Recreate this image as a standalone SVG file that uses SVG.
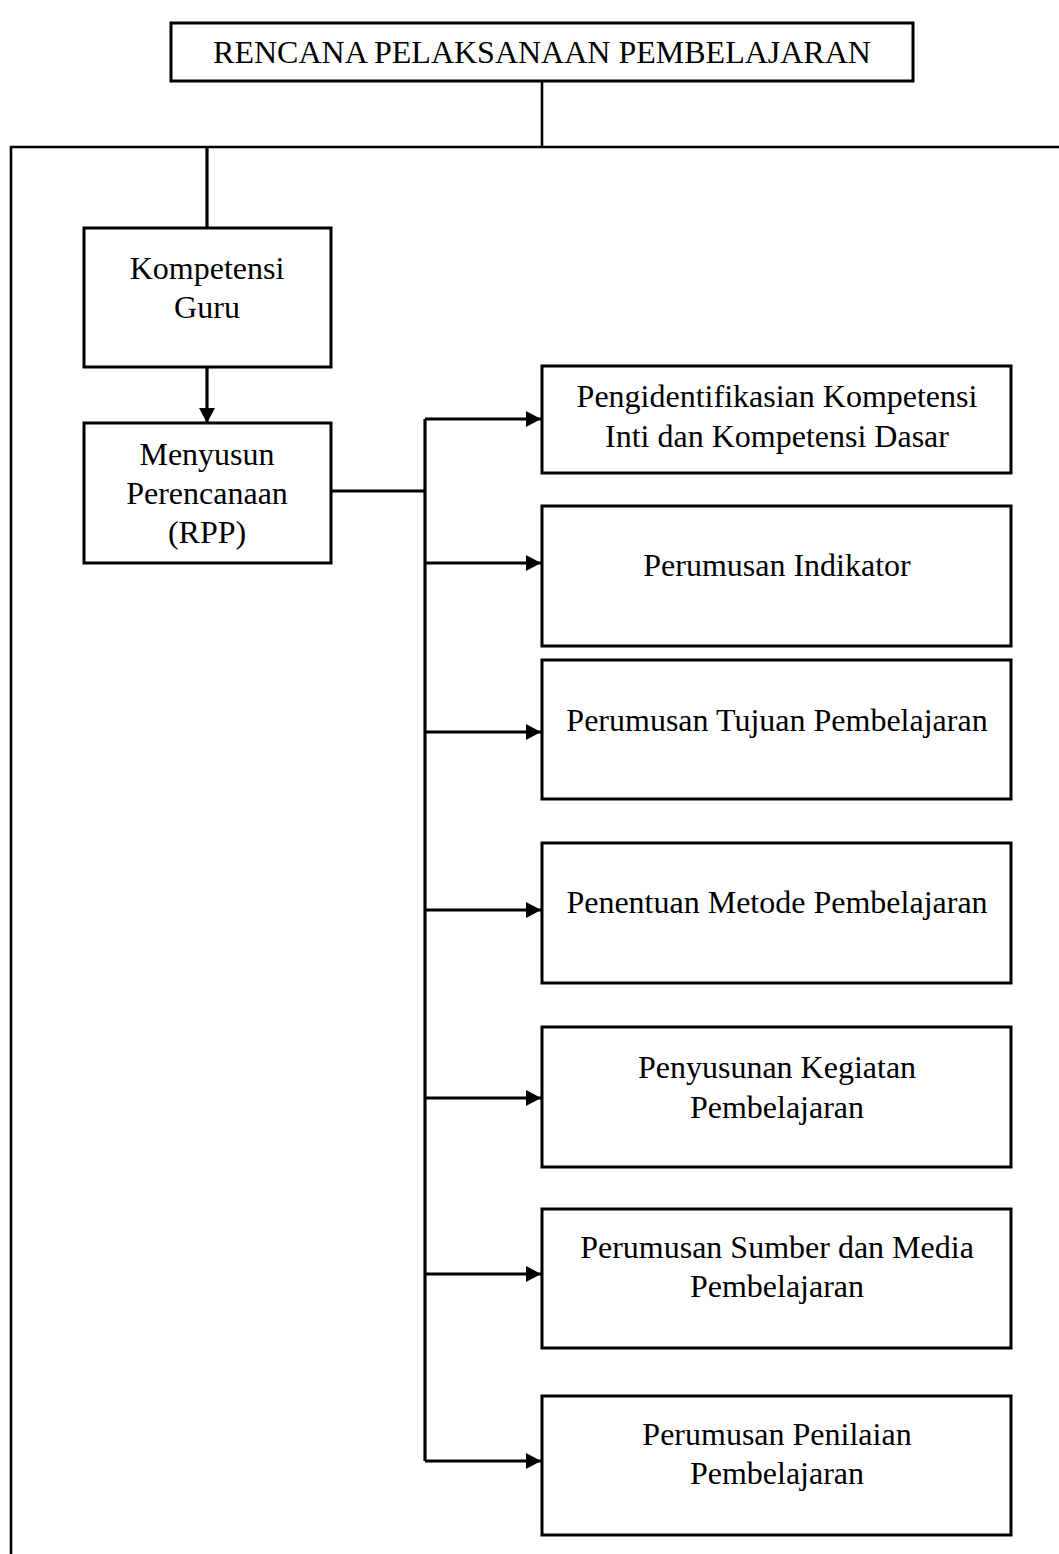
<svg xmlns="http://www.w3.org/2000/svg" width="1059" height="1554" viewBox="0 0 1059 1554">
<style>
.box{fill:#fff;stroke:#000;stroke-width:3}
.t{font-family:"Liberation Serif","Times New Roman",serif;font-size:32px;fill:#000;text-anchor:middle}
.c{fill:none;stroke:#000;stroke-width:3.2}
.c2{fill:none;stroke:#000;stroke-width:2.6}
</style>
<defs>
<marker id="ah" markerUnits="userSpaceOnUse" markerWidth="15" markerHeight="16" refX="15" refY="8" orient="auto">
<path d="M0,0 L15,8 L0,16 Z" fill="#000"/>
</marker>
</defs>
<rect width="1059" height="1554" fill="#fff"/>
<g id="connectors">
<path class="c2" d="M542,81 V147"/>
<path class="c2" d="M11,1554 V147 H1059"/>
<path class="c" d="M207,147 V228"/>
<path class="c" d="M207,367 V423" marker-end="url(#ah)"/>
<path class="c" d="M332,491 H425"/>
<path class="c" d="M425,419 V1461"/>
<path class="c" d="M425,419 H541" marker-end="url(#ah)"/>
<path class="c" d="M425,563 H541" marker-end="url(#ah)"/>
<path class="c" d="M425,732 H541" marker-end="url(#ah)"/>
<path class="c" d="M425,910 H541" marker-end="url(#ah)"/>
<path class="c" d="M425,1098 H541" marker-end="url(#ah)"/>
<path class="c" d="M425,1274 H541" marker-end="url(#ah)"/>
<path class="c" d="M425,1461 H541" marker-end="url(#ah)"/>
</g>
<g id="title">
<rect class="box" x="171" y="23" width="742" height="58"/>
<text class="t" x="542" y="63">RENCANA PELAKSANAAN PEMBELAJARAN</text>
</g>
<g id="kompetensi-guru">
<rect class="box" x="84" y="228" width="247" height="139"/>
<text class="t" x="207" y="279">Kompetensi</text>
<text class="t" x="207" y="318">Guru</text>
</g>
<g id="menyusun">
<rect class="box" x="84" y="423" width="247" height="140"/>
<text class="t" x="207" y="465">Menyusun</text>
<text class="t" x="207" y="504">Perencanaan</text>
<text class="t" x="207" y="543">(RPP)</text>
</g>
<g id="pengidentifikasian">
<rect class="box" x="542" y="366" width="469" height="107"/>
<text class="t" x="777" y="407">Pengidentifikasian Kompetensi</text>
<text class="t" x="777" y="447">Inti dan Kompetensi Dasar</text>
</g>
<g id="indikator">
<rect class="box" x="542" y="506" width="469" height="140"/>
<text class="t" x="777" y="576">Perumusan Indikator</text>
</g>
<g id="tujuan">
<rect class="box" x="542" y="660" width="469" height="139"/>
<text class="t" x="777" y="731">Perumusan Tujuan Pembelajaran</text>
</g>
<g id="metode">
<rect class="box" x="542" y="843" width="469" height="140"/>
<text class="t" x="777" y="913">Penentuan Metode Pembelajaran</text>
</g>
<g id="kegiatan">
<rect class="box" x="542" y="1027" width="469" height="140"/>
<text class="t" x="777" y="1078">Penyusunan Kegiatan</text>
<text class="t" x="777" y="1118">Pembelajaran</text>
</g>
<g id="sumber">
<rect class="box" x="542" y="1209" width="469" height="139"/>
<text class="t" x="777" y="1258">Perumusan Sumber dan Media</text>
<text class="t" x="777" y="1297">Pembelajaran</text>
</g>
<g id="penilaian">
<rect class="box" x="542" y="1396" width="469" height="139"/>
<text class="t" x="777" y="1445">Perumusan Penilaian</text>
<text class="t" x="777" y="1484">Pembelajaran</text>
</g>
</svg>
